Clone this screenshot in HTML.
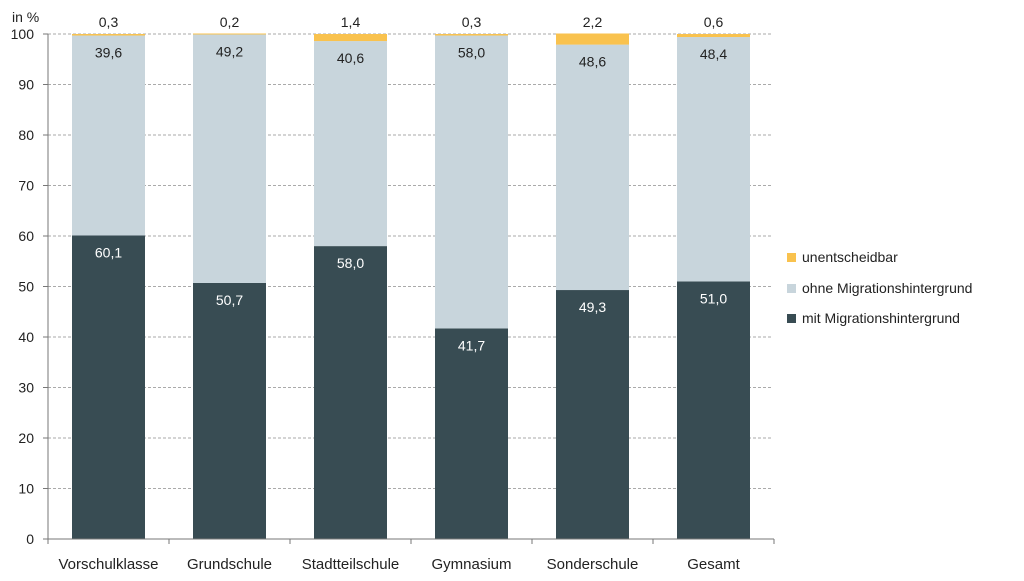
<!DOCTYPE html>
<html><head><meta charset="utf-8"><style>
body{margin:0;background:#fff;}
svg text{font-family:"Liberation Sans",sans-serif;fill:#222;}
</style></head><body>
<svg id="chart" width="1024" height="576" viewBox="0 0 1024 576" xmlns="http://www.w3.org/2000/svg">
<g id="grid"></g>
<g id="bars"></g>
<g id="axes"></g>
<text x="12" y="22" font-size="14">in %</text>
<g font-size="14">
<g><rect x="787" y="253" width="9" height="9" fill="#f9c24e"/><text x="802" y="262">unentscheidbar</text></g>
<g><rect x="787" y="284" width="9" height="9" fill="#c8d5dc"/><text x="802" y="293">ohne Migrationshintergrund</text></g>
<g><rect x="787" y="314" width="9" height="9" fill="#384c53"/><text x="802" y="323">mit Migrationshintergrund</text></g>
</g>
</svg>
<script>
const categories=["Vorschulklasse","Grundschule","Stadtteilschule","Gymnasium","Sonderschule","Gesamt"];
const mit=[60.1,50.7,58.0,41.7,49.3,51.0];
const ohne=[39.6,49.2,40.6,58.0,48.6,48.4];
const unent=[0.3,0.2,1.4,0.3,2.2,0.6];
const yTicks=[0,10,20,30,40,50,60,70,80,90,100];
const NS="http://www.w3.org/2000/svg";
const x0=48,x1=774,y0=539,y1=34;
const band=(x1-x0)/categories.length;
const bw=73;
function y(v){return y0-(v/100)*(y0-y1);}
function xc(i){return x0+band*i+band/2;}
function fmt(v){return v.toFixed(1).replace('.',',');}
function el(tag,attrs,parent,txt){const e=document.createElementNS(NS,tag);for(const k in attrs)e.setAttribute(k,attrs[k]);if(txt!==undefined)e.textContent=txt;parent.appendChild(e);return e;}
const grid=document.getElementById('grid'),bars=document.getElementById('bars'),axes=document.getElementById('axes');
yTicks.forEach(t=>{
  if(t>0){const l=el('line',{x1:x0,x2:772,y1:y(t),y2:y(t),stroke:'#aaa','stroke-dasharray':'3,2','stroke-width':1},grid);
  
  }
  const tk=el('line',{x1:x0-5,x2:x0,y1:y(t),y2:y(t),stroke:'#777'},axes);
  
  
  const tx=el('text',{x:34,y:y(t)+5,'text-anchor':'end','font-size':14},axes,String(t));
  
  
});
categories.forEach((c,i)=>{
  const bx=xc(i)-bw/2;
  const segs=[[0,mit[i],'#384c53'],[mit[i],mit[i]+ohne[i],'#c8d5dc'],[mit[i]+ohne[i],mit[i]+ohne[i]+unent[i],'#f9c24e']];
  const names=['mit','ohne','unentscheidbar'];
  segs.forEach((s,k)=>{
    const r=el('rect',{x:bx,y:y(s[1]),width:bw,height:y(s[0])-y(s[1]),fill:s[2]},bars);
    
    
  });
  const t1=el('text',{x:xc(i),y:y(mit[i])+22,'text-anchor':'middle','font-size':14,style:'fill:#fff'},bars,fmt(mit[i]));
  
  
  const t2=el('text',{x:xc(i),y:y(mit[i]+ohne[i])+22,'text-anchor':'middle','font-size':14},bars,fmt(ohne[i]));
  
  
  const t3=el('text',{x:xc(i),y:27,'text-anchor':'middle','font-size':14},bars,fmt(unent[i]));
  
  
  const cl=el('text',{x:xc(i),y:569,'text-anchor':'middle','font-size':15},axes,c);
  
  
});
for(let i=0;i<=categories.length;i++){
  const t=el('line',{x1:x0+band*i,x2:x0+band*i,y1:y0,y2:y0+5,stroke:'#777'},axes);
  
  
}
const ya=el('line',{x1:x0,x2:x0,y1:y1,y2:y0,stroke:'#777'},axes);


const xa=el('line',{x1:x0,x2:x1,y1:y0,y2:y0,stroke:'#777'},axes);


</script>
</body></html>
